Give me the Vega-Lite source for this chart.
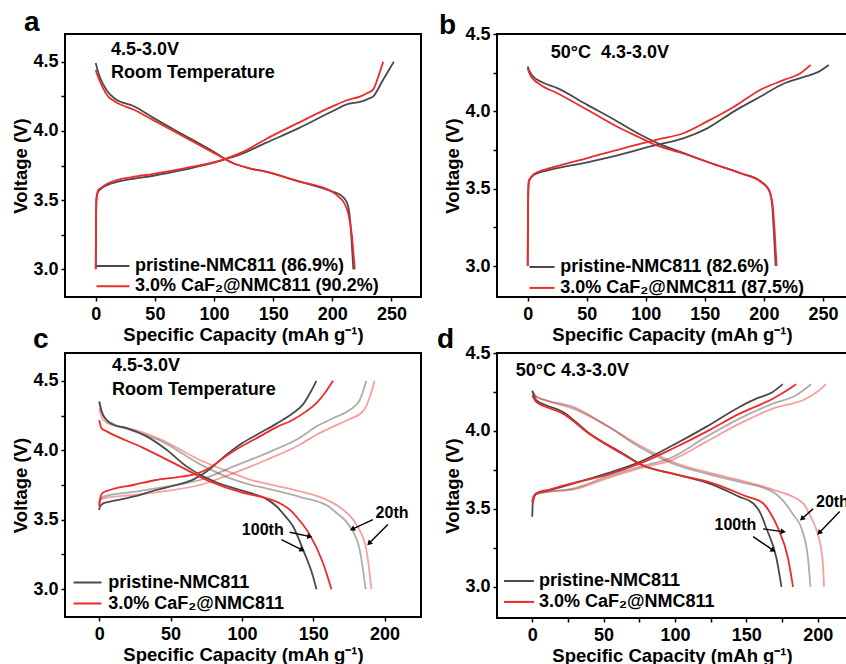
{
"$schema": "https://vega.github.io/schema/vega-lite/v6.json",
"background": "white",
"padding": {"left": 10, "top": 8, "right": 0, "bottom": 0},
"config": {
  "font": "Liberation Sans",
  "view": {"stroke": "black", "strokeWidth": 2},
  "axis": {"grid": false, "domain": false, "tickColor": "black", "tickWidth": 1.5, "tickSize": 4, "labelFont": "Liberation Sans", "labelFontSize": 18, "labelFontWeight": "bold", "labelColor": "black", "titleFont": "Liberation Sans", "titleFontSize": 18.5, "titleFontWeight": "bold", "titleColor": "black", "labelPadding": 3, "titlePadding": 2, "labelOverlap": false, "labelFlush": false, "labelBound": false},
  "axisX": {"format": "d", "labelExpr": "datum.value % 50 == 0 ? datum.label : ''", "labelPadding": 4},
  "axisY": {"format": ".1f", "labelExpr": "abs(datum.value*2 - round(datum.value*2)) < 0.001 ? datum.label : ''"},
  "legend": {"labelFont": "Liberation Sans", "labelFontSize": 18, "labelFontWeight": "bold", "labelColor": "black", "padding": 0, "symbolStrokeWidth": 2, "labelLimit": 500, "orient": "none", "title": null, "symbolSize": 400},
  "title": {"anchor": "start", "frame": "group", "fontSize": 28, "fontWeight": "bold", "font": "Liberation Sans", "color": "black"}
},
"datasets": {
  "a": [
    {"s":"P","k":"c","x":0,"y":3.0},{"s":"P","k":"c","x":0.2,"y":3.3},{"s":"P","k":"c","x":0.6,"y":3.5},{"s":"P","k":"c","x":2,"y":3.56},{"s":"P","k":"c","x":3.9,"y":3.578},{"s":"P","k":"c","x":10,"y":3.61},{"s":"P","k":"c","x":17.9,"y":3.632},{"s":"P","k":"c","x":30,"y":3.652},{"s":"P","k":"c","x":48.7,"y":3.676},{"s":"P","k":"c","x":75,"y":3.72},{"s":"P","k":"c","x":99,"y":3.768},{"s":"P","k":"c","x":110,"y":3.797},{"s":"P","k":"c","x":125,"y":3.84},{"s":"P","k":"c","x":143.7,"y":3.913},{"s":"P","k":"c","x":171.7,"y":4.02},{"s":"P","k":"c","x":199.7,"y":4.14},{"s":"P","k":"c","x":213.6,"y":4.195},{"s":"P","k":"c","x":223.4,"y":4.21},{"s":"P","k":"c","x":230,"y":4.23},{"s":"P","k":"c","x":234.7,"y":4.25},{"s":"P","k":"c","x":243,"y":4.37},{"s":"P","k":"c","x":252,"y":4.5},
    {"s":"P","k":"d","x":0,"y":4.49},{"s":"P","k":"d","x":1.5,"y":4.44},{"s":"P","k":"d","x":3.9,"y":4.38},{"s":"P","k":"d","x":9.5,"y":4.29},{"s":"P","k":"d","x":16.5,"y":4.23},{"s":"P","k":"d","x":31.9,"y":4.18},{"s":"P","k":"d","x":48.7,"y":4.094},{"s":"P","k":"d","x":73.8,"y":3.973},{"s":"P","k":"d","x":99,"y":3.853},{"s":"P","k":"d","x":115.8,"y":3.768},{"s":"P","k":"d","x":130,"y":3.73},{"s":"P","k":"d","x":143.7,"y":3.705},{"s":"P","k":"d","x":171.7,"y":3.635},{"s":"P","k":"d","x":199.7,"y":3.563},{"s":"P","k":"d","x":208,"y":3.53},{"s":"P","k":"d","x":212,"y":3.49},{"s":"P","k":"d","x":214.5,"y":3.4},{"s":"P","k":"d","x":216,"y":3.25},{"s":"P","k":"d","x":217.8,"y":3.0},
    {"s":"C","k":"c","x":0,"y":3.0},{"s":"C","k":"c","x":0.2,"y":3.3},{"s":"C","k":"c","x":0.6,"y":3.52},{"s":"C","k":"c","x":2,"y":3.57},{"s":"C","k":"c","x":3.9,"y":3.585},{"s":"C","k":"c","x":10,"y":3.62},{"s":"C","k":"c","x":17.9,"y":3.645},{"s":"C","k":"c","x":30,"y":3.665},{"s":"C","k":"c","x":48.7,"y":3.69},{"s":"C","k":"c","x":75,"y":3.73},{"s":"C","k":"c","x":99,"y":3.772},{"s":"C","k":"c","x":110,"y":3.8},{"s":"C","k":"c","x":125,"y":3.85},{"s":"C","k":"c","x":143.7,"y":3.94},{"s":"C","k":"c","x":171.7,"y":4.06},{"s":"C","k":"c","x":199.7,"y":4.175},{"s":"C","k":"c","x":213.6,"y":4.225},{"s":"C","k":"c","x":223.4,"y":4.247},{"s":"C","k":"c","x":230,"y":4.275},{"s":"C","k":"c","x":234.7,"y":4.3},{"s":"C","k":"c","x":238,"y":4.37},{"s":"C","k":"c","x":243,"y":4.5},
    {"s":"C","k":"d","x":0,"y":4.44},{"s":"C","k":"d","x":1.5,"y":4.4},{"s":"C","k":"d","x":3.9,"y":4.35},{"s":"C","k":"d","x":9.5,"y":4.26},{"s":"C","k":"d","x":16.5,"y":4.21},{"s":"C","k":"d","x":31.9,"y":4.155},{"s":"C","k":"d","x":48.7,"y":4.077},{"s":"C","k":"d","x":73.8,"y":3.961},{"s":"C","k":"d","x":99,"y":3.845},{"s":"C","k":"d","x":115.8,"y":3.768},{"s":"C","k":"d","x":130,"y":3.73},{"s":"C","k":"d","x":143.7,"y":3.705},{"s":"C","k":"d","x":171.7,"y":3.635},{"s":"C","k":"d","x":199.7,"y":3.56},{"s":"C","k":"d","x":206,"y":3.52},{"s":"C","k":"d","x":210,"y":3.48},{"s":"C","k":"d","x":213.6,"y":3.4},{"s":"C","k":"d","x":216.5,"y":3.25},{"s":"C","k":"d","x":219,"y":3.0}
  ],
  "b": [
    {"s":"P","k":"c","x":0,"y":3.0},{"s":"P","k":"c","x":0.2,"y":3.3},{"s":"P","k":"c","x":0.6,"y":3.5},{"s":"P","k":"c","x":1.1,"y":3.548},{"s":"P","k":"c","x":5.4,"y":3.59},{"s":"P","k":"c","x":19.5,"y":3.623},{"s":"P","k":"c","x":50.5,"y":3.67},{"s":"P","k":"c","x":81.5,"y":3.726},{"s":"P","k":"c","x":98.5,"y":3.763},{"s":"P","k":"c","x":109.8,"y":3.784},{"s":"P","k":"c","x":132.3,"y":3.827},{"s":"P","k":"c","x":152,"y":3.89},{"s":"P","k":"c","x":174.7,"y":4.0},{"s":"P","k":"c","x":197.2,"y":4.096},{"s":"P","k":"c","x":217,"y":4.18},{"s":"P","k":"c","x":236.7,"y":4.229},{"s":"P","k":"c","x":246.6,"y":4.257},{"s":"P","k":"c","x":252.3,"y":4.285},{"s":"P","k":"c","x":255,"y":4.3},
    {"s":"P","k":"d","x":0,"y":4.29},{"s":"P","k":"d","x":1.5,"y":4.26},{"s":"P","k":"d","x":4,"y":4.23},{"s":"P","k":"d","x":11,"y":4.193},{"s":"P","k":"d","x":25.1,"y":4.15},{"s":"P","k":"d","x":50.5,"y":4.042},{"s":"P","k":"d","x":75.9,"y":3.935},{"s":"P","k":"d","x":92.8,"y":3.86},{"s":"P","k":"d","x":109.8,"y":3.795},{"s":"P","k":"d","x":132.3,"y":3.73},{"s":"P","k":"d","x":154.9,"y":3.666},{"s":"P","k":"d","x":180.3,"y":3.6},{"s":"P","k":"d","x":197.2,"y":3.548},{"s":"P","k":"d","x":204.3,"y":3.494},{"s":"P","k":"d","x":207.1,"y":3.387},{"s":"P","k":"d","x":208.5,"y":3.215},{"s":"P","k":"d","x":210,"y":3.0},
    {"s":"C","k":"c","x":0,"y":3.0},{"s":"C","k":"c","x":0.2,"y":3.3},{"s":"C","k":"c","x":0.6,"y":3.52},{"s":"C","k":"c","x":1.1,"y":3.555},{"s":"C","k":"c","x":5.4,"y":3.595},{"s":"C","k":"c","x":19.5,"y":3.634},{"s":"C","k":"c","x":50.5,"y":3.698},{"s":"C","k":"c","x":81.5,"y":3.763},{"s":"C","k":"c","x":109.8,"y":3.817},{"s":"C","k":"c","x":132.3,"y":3.86},{"s":"C","k":"c","x":152,"y":3.935},{"s":"C","k":"c","x":174.7,"y":4.03},{"s":"C","k":"c","x":197.2,"y":4.14},{"s":"C","k":"c","x":217,"y":4.203},{"s":"C","k":"c","x":231,"y":4.246},{"s":"C","k":"c","x":239.6,"y":4.3},
    {"s":"C","k":"d","x":0,"y":4.279},{"s":"C","k":"d","x":1.5,"y":4.245},{"s":"C","k":"d","x":4,"y":4.214},{"s":"C","k":"d","x":11,"y":4.171},{"s":"C","k":"d","x":25.1,"y":4.117},{"s":"C","k":"d","x":50.5,"y":4.01},{"s":"C","k":"d","x":75.9,"y":3.9},{"s":"C","k":"d","x":92.8,"y":3.838},{"s":"C","k":"d","x":109.8,"y":3.778},{"s":"C","k":"d","x":132.3,"y":3.726},{"s":"C","k":"d","x":154.9,"y":3.666},{"s":"C","k":"d","x":180.3,"y":3.6},{"s":"C","k":"d","x":197.2,"y":3.545},{"s":"C","k":"d","x":204.3,"y":3.49},{"s":"C","k":"d","x":207.5,"y":3.39},{"s":"C","k":"d","x":209.2,"y":3.215},{"s":"C","k":"d","x":210.8,"y":3.0}
  ],
  "c": [
    {"s":"P","n":"20th","k":"c","x":0,"y":3.6},{"s":"P","n":"20th","k":"c","x":0.3,"y":3.63},{"s":"P","n":"20th","k":"c","x":2.8,"y":3.666},{"s":"P","n":"20th","k":"c","x":23.8,"y":3.7},{"s":"P","n":"20th","k":"c","x":47,"y":3.738},{"s":"P","n":"20th","k":"c","x":70.5,"y":3.786},{"s":"P","n":"20th","k":"c","x":93.8,"y":3.882},{"s":"P","n":"20th","k":"c","x":117,"y":3.978},{"s":"P","n":"20th","k":"c","x":140.5,"y":4.09},{"s":"P","n":"20th","k":"c","x":152,"y":4.17},{"s":"P","n":"20th","k":"c","x":163.8,"y":4.23},{"s":"P","n":"20th","k":"c","x":175.5,"y":4.29},{"s":"P","n":"20th","k":"c","x":182.5,"y":4.36},{"s":"P","n":"20th","k":"c","x":187.2,"y":4.5},
    {"s":"P","n":"20th","k":"d","x":0,"y":4.34},{"s":"P","n":"20th","k":"d","x":1.7,"y":4.27},{"s":"P","n":"20th","k":"d","x":5,"y":4.22},{"s":"P","n":"20th","k":"d","x":9.8,"y":4.19},{"s":"P","n":"20th","k":"d","x":23.8,"y":4.14},{"s":"P","n":"20th","k":"d","x":42.5,"y":4.07},{"s":"P","n":"20th","k":"d","x":70.5,"y":3.9},{"s":"P","n":"20th","k":"d","x":93.8,"y":3.79},{"s":"P","n":"20th","k":"d","x":105.5,"y":3.753},{"s":"P","n":"20th","k":"d","x":117,"y":3.726},{"s":"P","n":"20th","k":"d","x":140.5,"y":3.665},{"s":"P","n":"20th","k":"d","x":160,"y":3.6},{"s":"P","n":"20th","k":"d","x":166.2,"y":3.55},{"s":"P","n":"20th","k":"d","x":175.5,"y":3.453},{"s":"P","n":"20th","k":"d","x":182.5,"y":3.285},{"s":"P","n":"20th","k":"d","x":186.7,"y":3.0},
    {"s":"C","n":"20th","k":"c","x":0,"y":3.62},{"s":"C","n":"20th","k":"c","x":0.3,"y":3.64},{"s":"C","n":"20th","k":"c","x":2.8,"y":3.654},{"s":"C","n":"20th","k":"c","x":23.8,"y":3.678},{"s":"C","n":"20th","k":"c","x":47,"y":3.707},{"s":"C","n":"20th","k":"c","x":70.5,"y":3.75},{"s":"C","n":"20th","k":"c","x":93.8,"y":3.834},{"s":"C","n":"20th","k":"c","x":117,"y":3.93},{"s":"C","n":"20th","k":"c","x":140.5,"y":4.04},{"s":"C","n":"20th","k":"c","x":152,"y":4.11},{"s":"C","n":"20th","k":"c","x":163.8,"y":4.17},{"s":"C","n":"20th","k":"c","x":175.5,"y":4.225},{"s":"C","n":"20th","k":"c","x":184.8,"y":4.28},{"s":"C","n":"20th","k":"c","x":189.5,"y":4.38},{"s":"C","n":"20th","k":"c","x":193,"y":4.5},
    {"s":"C","n":"20th","k":"d","x":0,"y":4.3},{"s":"C","n":"20th","k":"d","x":1.7,"y":4.24},{"s":"C","n":"20th","k":"d","x":5,"y":4.2},{"s":"C","n":"20th","k":"d","x":9.8,"y":4.18},{"s":"C","n":"20th","k":"d","x":23.8,"y":4.15},{"s":"C","n":"20th","k":"d","x":42.5,"y":4.08},{"s":"C","n":"20th","k":"d","x":70.5,"y":3.93},{"s":"C","n":"20th","k":"d","x":93.8,"y":3.834},{"s":"C","n":"20th","k":"d","x":105.5,"y":3.789},{"s":"C","n":"20th","k":"d","x":117,"y":3.76},{"s":"C","n":"20th","k":"d","x":140.5,"y":3.705},{"s":"C","n":"20th","k":"d","x":160,"y":3.64},{"s":"C","n":"20th","k":"d","x":170.8,"y":3.573},{"s":"C","n":"20th","k":"d","x":180.2,"y":3.465},{"s":"C","n":"20th","k":"d","x":187.2,"y":3.285},{"s":"C","n":"20th","k":"d","x":190.7,"y":3.0},
    {"s":"P","n":"100th","k":"c","x":0,"y":3.57},{"s":"P","n":"100th","k":"c","x":0.3,"y":3.59},{"s":"P","n":"100th","k":"c","x":2.8,"y":3.618},{"s":"P","n":"100th","k":"c","x":7.5,"y":3.63},{"s":"P","n":"100th","k":"c","x":23.8,"y":3.666},{"s":"P","n":"100th","k":"c","x":40,"y":3.714},{"s":"P","n":"100th","k":"c","x":54,"y":3.75},{"s":"P","n":"100th","k":"c","x":65.8,"y":3.789},{"s":"P","n":"100th","k":"c","x":75,"y":3.845},{"s":"P","n":"100th","k":"c","x":89.2,"y":3.968},{"s":"P","n":"100th","k":"c","x":100,"y":4.05},{"s":"P","n":"100th","k":"c","x":112.5,"y":4.124},{"s":"P","n":"100th","k":"c","x":124,"y":4.19},{"s":"P","n":"100th","k":"c","x":135.8,"y":4.268},{"s":"P","n":"100th","k":"c","x":142.8,"y":4.33},{"s":"P","n":"100th","k":"c","x":148.7,"y":4.43},{"s":"P","n":"100th","k":"c","x":152.2,"y":4.5},
    {"s":"P","n":"100th","k":"d","x":0,"y":4.352},{"s":"P","n":"100th","k":"d","x":1.7,"y":4.28},{"s":"P","n":"100th","k":"d","x":5,"y":4.22},{"s":"P","n":"100th","k":"d","x":9.8,"y":4.184},{"s":"P","n":"100th","k":"d","x":19.2,"y":4.16},{"s":"P","n":"100th","k":"d","x":33.2,"y":4.1},{"s":"P","n":"100th","k":"d","x":47.2,"y":4.004},{"s":"P","n":"100th","k":"d","x":61.2,"y":3.884},{"s":"P","n":"100th","k":"d","x":72.8,"y":3.812},{"s":"P","n":"100th","k":"d","x":82,"y":3.77},{"s":"P","n":"100th","k":"d","x":93.8,"y":3.729},{"s":"P","n":"100th","k":"d","x":105,"y":3.695},{"s":"P","n":"100th","k":"d","x":117,"y":3.65},{"s":"P","n":"100th","k":"d","x":124.2,"y":3.597},{"s":"P","n":"100th","k":"d","x":130,"y":3.53},{"s":"P","n":"100th","k":"d","x":135.8,"y":3.453},{"s":"P","n":"100th","k":"d","x":142.8,"y":3.285},{"s":"P","n":"100th","k":"d","x":149.8,"y":3.093},{"s":"P","n":"100th","k":"d","x":152.2,"y":3.0},
    {"s":"C","n":"100th","k":"c","x":0,"y":3.6},{"s":"C","n":"100th","k":"c","x":0.8,"y":3.66},{"s":"C","n":"100th","k":"c","x":2,"y":3.69},{"s":"C","n":"100th","k":"c","x":7.5,"y":3.714},{"s":"C","n":"100th","k":"c","x":23.8,"y":3.75},{"s":"C","n":"100th","k":"c","x":40,"y":3.786},{"s":"C","n":"100th","k":"c","x":54,"y":3.805},{"s":"C","n":"100th","k":"c","x":65.8,"y":3.825},{"s":"C","n":"100th","k":"c","x":75,"y":3.86},{"s":"C","n":"100th","k":"c","x":89.2,"y":3.96},{"s":"C","n":"100th","k":"c","x":100,"y":4.03},{"s":"C","n":"100th","k":"c","x":112.5,"y":4.1},{"s":"C","n":"100th","k":"c","x":124,"y":4.165},{"s":"C","n":"100th","k":"c","x":135.8,"y":4.22},{"s":"C","n":"100th","k":"c","x":145,"y":4.28},{"s":"C","n":"100th","k":"c","x":152.2,"y":4.34},{"s":"C","n":"100th","k":"c","x":158,"y":4.41},{"s":"C","n":"100th","k":"c","x":163.8,"y":4.5},
    {"s":"C","n":"100th","k":"d","x":0,"y":4.217},{"s":"C","n":"100th","k":"d","x":1.6,"y":4.157},{"s":"C","n":"100th","k":"d","x":5.2,"y":4.136},{"s":"C","n":"100th","k":"d","x":30.8,"y":4.017},{"s":"C","n":"100th","k":"d","x":54.2,"y":3.897},{"s":"C","n":"100th","k":"d","x":77.5,"y":3.776},{"s":"C","n":"100th","k":"d","x":100.8,"y":3.693},{"s":"C","n":"100th","k":"d","x":117,"y":3.655},{"s":"C","n":"100th","k":"d","x":128.8,"y":3.606},{"s":"C","n":"100th","k":"d","x":133.5,"y":3.573},{"s":"C","n":"100th","k":"d","x":140,"y":3.5},{"s":"C","n":"100th","k":"d","x":147.5,"y":3.393},{"s":"C","n":"100th","k":"d","x":156.8,"y":3.19},{"s":"C","n":"100th","k":"d","x":162.7,"y":3.0}
  ],
  "d": [
    {"s":"P","n":"20th","k":"c","x":0,"y":3.54},{"s":"P","n":"20th","k":"c","x":0.5,"y":3.57},{"s":"P","n":"20th","k":"c","x":2.8,"y":3.595},{"s":"P","n":"20th","k":"c","x":12.1,"y":3.61},{"s":"P","n":"20th","k":"c","x":28.5,"y":3.63},{"s":"P","n":"20th","k":"c","x":51.8,"y":3.705},{"s":"P","n":"20th","k":"c","x":75.1,"y":3.769},{"s":"P","n":"20th","k":"c","x":98.5,"y":3.833},{"s":"P","n":"20th","k":"c","x":121.8,"y":3.962},{"s":"P","n":"20th","k":"c","x":145.2,"y":4.079},{"s":"P","n":"20th","k":"c","x":168.5,"y":4.175},{"s":"P","n":"20th","k":"c","x":184.8,"y":4.229},{"s":"P","n":"20th","k":"c","x":195.3,"y":4.3},
    {"s":"P","n":"20th","k":"d","x":0,"y":4.26},{"s":"P","n":"20th","k":"d","x":2.8,"y":4.22},{"s":"P","n":"20th","k":"d","x":9.8,"y":4.197},{"s":"P","n":"20th","k":"d","x":28.5,"y":4.154},{"s":"P","n":"20th","k":"d","x":51.8,"y":4.036},{"s":"P","n":"20th","k":"d","x":75.1,"y":3.897},{"s":"P","n":"20th","k":"d","x":98.5,"y":3.79},{"s":"P","n":"20th","k":"d","x":121.8,"y":3.726},{"s":"P","n":"20th","k":"d","x":145.2,"y":3.673},{"s":"P","n":"20th","k":"d","x":168.5,"y":3.609},{"s":"P","n":"20th","k":"d","x":178.1,"y":3.526},{"s":"P","n":"20th","k":"d","x":183,"y":3.46},{"s":"P","n":"20th","k":"d","x":188.6,"y":3.376},{"s":"P","n":"20th","k":"d","x":193.2,"y":3.183},{"s":"P","n":"20th","k":"d","x":194.9,"y":3.0},
    {"s":"C","n":"20th","k":"c","x":0,"y":3.55},{"s":"C","n":"20th","k":"c","x":0.5,"y":3.575},{"s":"C","n":"20th","k":"c","x":2.8,"y":3.6},{"s":"C","n":"20th","k":"c","x":12.1,"y":3.612},{"s":"C","n":"20th","k":"c","x":28.5,"y":3.624},{"s":"C","n":"20th","k":"c","x":51.8,"y":3.694},{"s":"C","n":"20th","k":"c","x":75.1,"y":3.759},{"s":"C","n":"20th","k":"c","x":98.5,"y":3.816},{"s":"C","n":"20th","k":"c","x":121.8,"y":3.93},{"s":"C","n":"20th","k":"c","x":145.2,"y":4.047},{"s":"C","n":"20th","k":"c","x":168.5,"y":4.143},{"s":"C","n":"20th","k":"c","x":191.8,"y":4.207},{"s":"C","n":"20th","k":"c","x":201,"y":4.26},{"s":"C","n":"20th","k":"c","x":205.8,"y":4.3},
    {"s":"C","n":"20th","k":"d","x":0,"y":4.25},{"s":"C","n":"20th","k":"d","x":2.8,"y":4.22},{"s":"C","n":"20th","k":"d","x":9.8,"y":4.195},{"s":"C","n":"20th","k":"d","x":28.5,"y":4.143},{"s":"C","n":"20th","k":"d","x":51.8,"y":4.036},{"s":"C","n":"20th","k":"d","x":75.1,"y":3.908},{"s":"C","n":"20th","k":"d","x":98.5,"y":3.801},{"s":"C","n":"20th","k":"d","x":121.8,"y":3.737},{"s":"C","n":"20th","k":"d","x":145.2,"y":3.684},{"s":"C","n":"20th","k":"d","x":168.5,"y":3.624},{"s":"C","n":"20th","k":"d","x":189.7,"y":3.536},{"s":"C","n":"20th","k":"d","x":195,"y":3.45},{"s":"C","n":"20th","k":"d","x":199.5,"y":3.354},{"s":"C","n":"20th","k":"d","x":203.3,"y":3.183},{"s":"C","n":"20th","k":"d","x":204.4,"y":3.0},
    {"s":"P","n":"100th","k":"c","x":0,"y":3.449},{"s":"P","n":"100th","k":"c","x":0.3,"y":3.53},{"s":"P","n":"100th","k":"c","x":0.8,"y":3.556},{"s":"P","n":"100th","k":"c","x":2.8,"y":3.598},{"s":"P","n":"100th","k":"c","x":12.1,"y":3.62},{"s":"P","n":"100th","k":"c","x":28.5,"y":3.662},{"s":"P","n":"100th","k":"c","x":51.8,"y":3.726},{"s":"P","n":"100th","k":"c","x":75.1,"y":3.8},{"s":"P","n":"100th","k":"c","x":98.5,"y":3.908},{"s":"P","n":"100th","k":"c","x":121.8,"y":4.026},{"s":"P","n":"100th","k":"c","x":145.2,"y":4.154},{"s":"P","n":"100th","k":"c","x":156.8,"y":4.207},{"s":"P","n":"100th","k":"c","x":168.5,"y":4.25},{"s":"P","n":"100th","k":"c","x":175.5,"y":4.3},
    {"s":"P","n":"100th","k":"d","x":0,"y":4.256},{"s":"P","n":"100th","k":"d","x":2.8,"y":4.197},{"s":"P","n":"100th","k":"d","x":9.8,"y":4.165},{"s":"P","n":"100th","k":"d","x":21.5,"y":4.122},{"s":"P","n":"100th","k":"d","x":40.1,"y":3.983},{"s":"P","n":"100th","k":"d","x":63.5,"y":3.855},{"s":"P","n":"100th","k":"d","x":77.5,"y":3.78},{"s":"P","n":"100th","k":"d","x":98.5,"y":3.726},{"s":"P","n":"100th","k":"d","x":126.7,"y":3.654},{"s":"P","n":"100th","k":"d","x":145.2,"y":3.577},{"s":"P","n":"100th","k":"d","x":154.7,"y":3.536},{"s":"P","n":"100th","k":"d","x":160,"y":3.47},{"s":"P","n":"100th","k":"d","x":164,"y":3.376},{"s":"P","n":"100th","k":"d","x":171.1,"y":3.183},{"s":"P","n":"100th","k":"d","x":174.6,"y":3.0},
    {"s":"C","n":"100th","k":"c","x":0,"y":3.54},{"s":"C","n":"100th","k":"c","x":0.5,"y":3.56},{"s":"C","n":"100th","k":"c","x":2.8,"y":3.6},{"s":"C","n":"100th","k":"c","x":12.1,"y":3.624},{"s":"C","n":"100th","k":"c","x":28.5,"y":3.665},{"s":"C","n":"100th","k":"c","x":51.8,"y":3.716},{"s":"C","n":"100th","k":"c","x":75.1,"y":3.79},{"s":"C","n":"100th","k":"c","x":98.5,"y":3.887},{"s":"C","n":"100th","k":"c","x":121.8,"y":3.994},{"s":"C","n":"100th","k":"c","x":145.2,"y":4.111},{"s":"C","n":"100th","k":"c","x":168.5,"y":4.207},{"s":"C","n":"100th","k":"c","x":180.2,"y":4.271},{"s":"C","n":"100th","k":"c","x":184.8,"y":4.3},
    {"s":"C","n":"100th","k":"d","x":0,"y":4.229},{"s":"C","n":"100th","k":"d","x":2.8,"y":4.186},{"s":"C","n":"100th","k":"d","x":9.8,"y":4.154},{"s":"C","n":"100th","k":"d","x":21.5,"y":4.111},{"s":"C","n":"100th","k":"d","x":40.1,"y":3.98},{"s":"C","n":"100th","k":"d","x":63.5,"y":3.85},{"s":"C","n":"100th","k":"d","x":77.5,"y":3.777},{"s":"C","n":"100th","k":"d","x":98.5,"y":3.726},{"s":"C","n":"100th","k":"d","x":126.7,"y":3.664},{"s":"C","n":"100th","k":"d","x":150,"y":3.58},{"s":"C","n":"100th","k":"d","x":161.7,"y":3.536},{"s":"C","n":"100th","k":"d","x":167,"y":3.47},{"s":"C","n":"100th","k":"d","x":172.2,"y":3.376},{"s":"C","n":"100th","k":"d","x":179.2,"y":3.183},{"s":"C","n":"100th","k":"d","x":182.7,"y":3.0}
  ],
  "arr": [
    {"p":"c","x":127.7,"y":3.357,"x2":141.7,"y2":3.285,"a":117},
    {"p":"c","x":133.5,"y":3.41,"x2":147,"y2":3.38,"a":102},
    {"p":"c","x":191.8,"y":3.5,"x2":177.8,"y2":3.434,"a":245},
    {"p":"c","x":202.3,"y":3.465,"x2":189.5,"y2":3.334,"a":225},
    {"p":"d","x":154.7,"y":3.322,"x2":168.3,"y2":3.237,"a":124},
    {"p":"d","x":161.7,"y":3.372,"x2":175.3,"y2":3.354,"a":98},
    {"p":"d","x":196.7,"y":3.5,"x2":189.3,"y2":3.44,"a":228},
    {"p":"d","x":215.4,"y":3.483,"x2":201.4,"y2":3.35,"a":224}
  ],
  "lab": [
    {"p":"c","t":"100th","x":114.6,"y":3.427},
    {"p":"c","t":"20th","x":205.2,"y":3.55},
    {"p":"d","t":"100th","x":142.3,"y":3.395},
    {"p":"d","t":"20th","x":210.3,"y":3.547}
  ]
},
"columns": 2,
"bounds": "flush",
"spacing": {"row": 56, "column": 76},
"resolve": {"scale": {"color": "independent", "opacity": "independent"}, "legend": {"color": "independent", "opacity": "independent"}},
"concat": [
  {
    "width": 356, "height": 263,
    "title": {"text": "a", "dx": -41, "offset": -3},
    "layer": [
      {"data": {"name": "a"},
       "mark": {"type": "line", "strokeWidth": 1.8, "interpolate": "monotone"},
       "encoding": {
         "x": {"field": "x", "type": "quantitative", "scale": {"domain": [-26, 275], "nice": false, "zero": false}, "axis": {"title": "Specific Capacity (mAh g⁻¹)", "values": [0,25,50,75,100,125,150,175,200,225,250,275]}},
         "y": {"field": "y", "type": "quantitative", "scale": {"domain": [2.8, 4.7], "nice": false, "zero": false}, "axis": {"title": "Voltage (V)", "values": [3,3.25,3.5,3.75,4,4.25,4.5]}},
         "color": {"field": "s", "type": "nominal", "scale": {"domain": ["P","C"], "range": ["#4a4a4a","#ee2a2a"]},
           "legend": {"legendX": 37, "legendY": 221, "symbolType": "M-1.65,0H1.65", "labelOffset": 11, "rowPadding": 0.2,
             "labelExpr": "datum.value == 'P' ? 'pristine-NMC811 (86.9%)' : '3.0% CaF₂@NMC811 (90.2%)'"}},
         "detail": {"field": "k"}
       }},
      {"data": {"values": [{}]},
       "mark": {"type": "text", "text": ["4.5-3.0V", "Room Temperature"], "align": "left", "baseline": "alphabetic", "lineHeight": 23.3, "fontSize": 18, "fontWeight": "bold", "font": "Liberation Sans", "color": "black"},
       "encoding": {"x": {"datum": 12.9}, "y": {"datum": 4.549}}}
    ]
  },
  {
    "width": 350, "height": 263,
    "title": {"text": "b", "dx": -58, "offset": -15},
    "layer": [
      {"data": {"name": "b"},
       "mark": {"type": "line", "strokeWidth": 1.8, "interpolate": "monotone"},
       "encoding": {
         "x": {"field": "x", "type": "quantitative", "scale": {"domain": [-26, 270.4], "nice": false, "zero": false}, "axis": {"title": "Specific Capacity (mAh g⁻¹)", "values": [0,25,50,75,100,125,150,175,200,225,250]}},
         "y": {"field": "y", "type": "quantitative", "scale": {"domain": [2.8, 4.5], "nice": false, "zero": false}, "axis": {"title": "Voltage (V)", "values": [3,3.25,3.5,3.75,4,4.25,4.5]}},
         "color": {"field": "s", "type": "nominal", "scale": {"domain": ["P","C"], "range": ["#4a4a4a","#ee2a2a"]},
           "legend": {"legendX": 34, "legendY": 222, "symbolType": "M-1.25,0H1.25", "labelOffset": 7.3, "rowPadding": 0.9,
             "labelExpr": "datum.value == 'P' ? 'pristine-NMC811 (82.6%)' : '3.0% CaF₂@NMC811 (87.5%)'"}},
         "detail": {"field": "k"}
       }},
      {"data": {"values": [{}]},
       "mark": {"type": "text", "text": "50°C\u00a0\u00a04.3-3.0V", "align": "left", "baseline": "alphabetic", "fontSize": 18, "fontWeight": "bold", "font": "Liberation Sans", "color": "black"},
       "encoding": {"x": {"datum": 19.5}, "y": {"datum": 4.343}}}
    ]
  },
  {
    "width": 356, "height": 264,
    "title": {"text": "c", "dx": -32, "offset": -1},
    "layer": [
      {"data": {"name": "c"},
       "mark": {"type": "line", "strokeWidth": 1.8, "interpolate": "monotone"},
       "encoding": {
         "x": {"field": "x", "type": "quantitative", "scale": {"domain": [-24, 225.5], "nice": false, "zero": false}, "axis": {"title": "Specific Capacity (mAh g⁻¹)", "values": [0,25,50,75,100,125,150,175,200,225]}},
         "y": {"field": "y", "type": "quantitative", "scale": {"domain": [2.8, 4.7], "nice": false, "zero": false}, "axis": {"title": "Voltage (V)", "values": [3,3.25,3.5,3.75,4,4.25,4.5]}},
         "color": {"field": "s", "type": "nominal", "scale": {"domain": ["P","C"], "range": ["#4a4a4a","#ee2a2a"]},
           "legend": {"legendX": 11.5, "legendY": 218.5, "symbolType": "M-1.4,0H1.4", "labelOffset": 9.8, "rowPadding": 1.0,
             "labelExpr": "datum.value == 'P' ? 'pristine-NMC811' : '3.0% CaF₂@NMC811'"}},
         "opacity": {"field": "n", "type": "ordinal", "scale": {"domain": ["20th","100th"], "range": [0.45, 1]}, "legend": null},
         "detail": {"field": "k"}
       }},
      {"data": {"values": [{}]},
       "mark": {"type": "text", "text": ["4.5-3.0V", "Room Temperature"], "align": "left", "baseline": "alphabetic", "lineHeight": 24, "fontSize": 18, "fontWeight": "bold", "font": "Liberation Sans", "color": "black"},
       "encoding": {"x": {"datum": 8.9}, "y": {"datum": 4.568}}},
      {"data": {"name": "arr"}, "transform": [{"filter": "datum.p == 'c'"}],
       "mark": {"type": "rule", "strokeWidth": 1.4, "color": "black"},
       "encoding": {"x": {"field": "x", "type": "quantitative"}, "y": {"field": "y", "type": "quantitative"}, "x2": {"field": "x2"}, "y2": {"field": "y2"}}},
      {"data": {"name": "arr"}, "transform": [{"filter": "datum.p == 'c'"}],
       "mark": {"type": "point", "shape": "triangle", "filled": true, "color": "black", "size": 35, "opacity": 1},
       "encoding": {"x": {"field": "x2", "type": "quantitative"}, "y": {"field": "y2", "type": "quantitative"}, "angle": {"field": "a", "type": "quantitative", "scale": null}}},
      {"data": {"name": "lab"}, "transform": [{"filter": "datum.p == 'c'"}],
       "mark": {"type": "text", "fontSize": 16, "fontWeight": "bold", "font": "Liberation Sans", "color": "black", "align": "center", "baseline": "middle"},
       "encoding": {"x": {"field": "x", "type": "quantitative"}, "y": {"field": "y", "type": "quantitative"}, "text": {"field": "t"}}}
    ]
  },
  {
    "width": 350, "height": 265,
    "title": {"text": "d", "dx": -60, "offset": -10},
    "layer": [
      {"data": {"name": "d"},
       "mark": {"type": "line", "strokeWidth": 1.8, "interpolate": "monotone"},
       "encoding": {
         "x": {"field": "x", "type": "quantitative", "scale": {"domain": [-24.7, 220.5], "nice": false, "zero": false}, "axis": {"title": "Specific Capacity (mAh g⁻¹)", "values": [0,25,50,75,100,125,150,175,200]}},
         "y": {"field": "y", "type": "quantitative", "scale": {"domain": [2.8, 4.5], "nice": false, "zero": false}, "axis": {"title": "Voltage (V)", "values": [3,3.25,3.5,3.75,4,4.25,4.5]}},
         "color": {"field": "s", "type": "nominal", "scale": {"domain": ["P","C"], "range": ["#4a4a4a","#ee2a2a"]},
           "legend": {"legendX": 11, "legendY": 217, "symbolType": "M-1.5,0H1.5", "labelOffset": 9, "rowPadding": 0.9,
             "labelExpr": "datum.value == 'P' ? 'pristine-NMC811' : '3.0% CaF₂@NMC811'"}},
         "opacity": {"field": "n", "type": "ordinal", "scale": {"domain": ["20th","100th"], "range": [0.45, 1]}, "legend": null},
         "detail": {"field": "k"}
       }},
      {"data": {"values": [{}]},
       "mark": {"type": "text", "text": "50°C 4.3-3.0V", "align": "left", "baseline": "alphabetic", "fontSize": 18, "fontWeight": "bold", "font": "Liberation Sans", "color": "black"},
       "encoding": {"x": {"datum": -11.6}, "y": {"datum": 4.35}}},
      {"data": {"name": "arr"}, "transform": [{"filter": "datum.p == 'd'"}],
       "mark": {"type": "rule", "strokeWidth": 1.4, "color": "black"},
       "encoding": {"x": {"field": "x", "type": "quantitative"}, "y": {"field": "y", "type": "quantitative"}, "x2": {"field": "x2"}, "y2": {"field": "y2"}}},
      {"data": {"name": "arr"}, "transform": [{"filter": "datum.p == 'd'"}],
       "mark": {"type": "point", "shape": "triangle", "filled": true, "color": "black", "size": 35, "opacity": 1},
       "encoding": {"x": {"field": "x2", "type": "quantitative"}, "y": {"field": "y2", "type": "quantitative"}, "angle": {"field": "a", "type": "quantitative", "scale": null}}},
      {"data": {"name": "lab"}, "transform": [{"filter": "datum.p == 'd'"}],
       "mark": {"type": "text", "fontSize": 16, "fontWeight": "bold", "font": "Liberation Sans", "color": "black", "align": "center", "baseline": "middle"},
       "encoding": {"x": {"field": "x", "type": "quantitative"}, "y": {"field": "y", "type": "quantitative"}, "text": {"field": "t"}}}
    ]
  }
]
}
